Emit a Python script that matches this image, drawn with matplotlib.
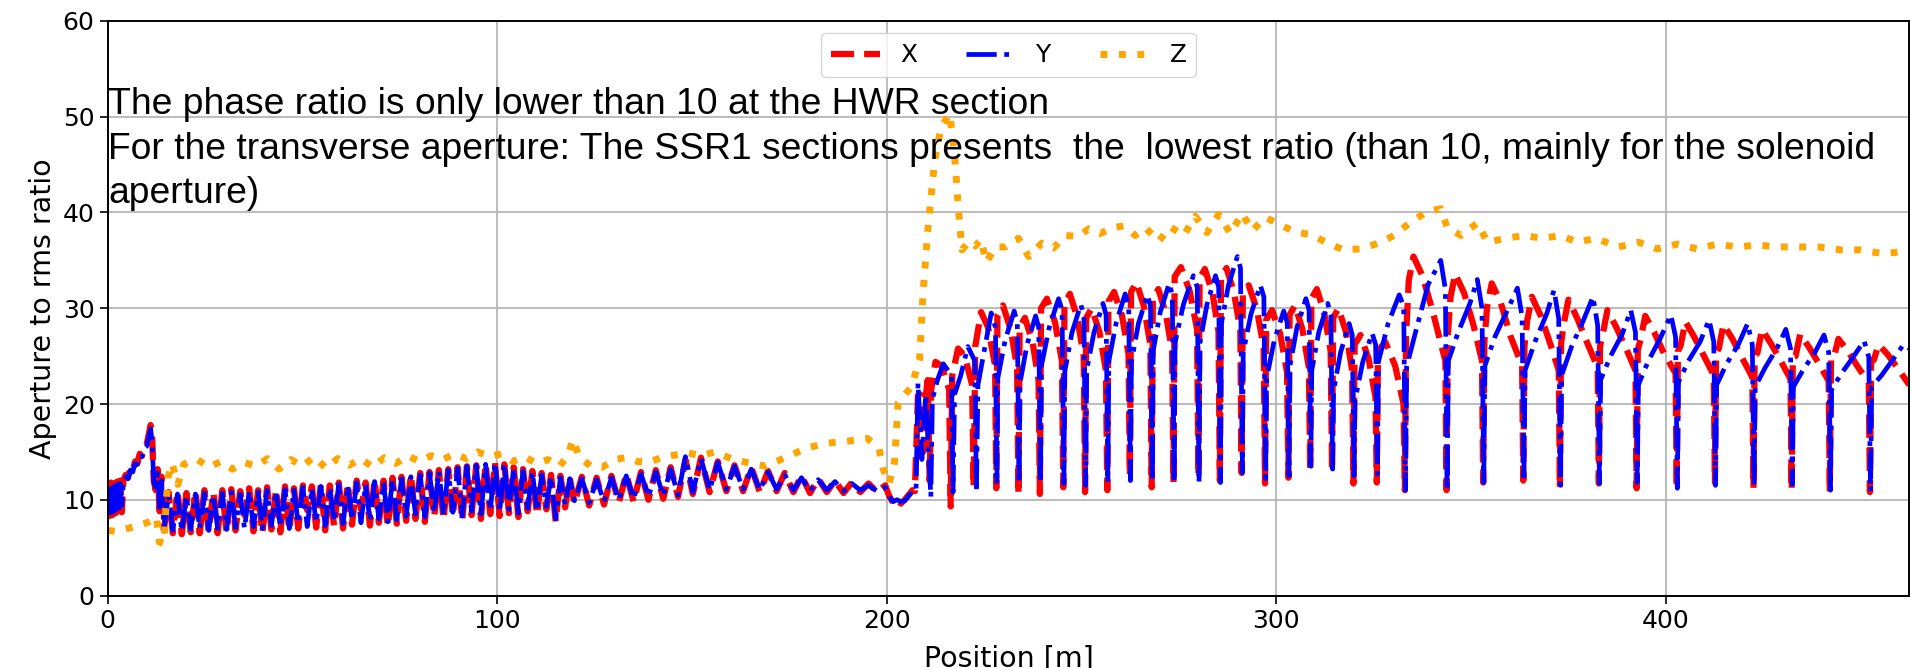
import matplotlib
matplotlib.use("Agg")
import matplotlib.pyplot as plt

# positions [m] shared by X and Y up to the SSR section (0-207 m)
pos_hwr = [
    0.0, 0.4, 0.8, 1.2, 1.6, 2.0, 2.4, 2.8, 3.2, 3.6, 4.0,
    4.6, 5.2, 5.8, 6.4, 7.0, 7.6, 8.2, 8.8, 9.4, 10.0, 10.5, 11.0,
    11.4, 11.8, 12.3, 12.8, 13.3, 13.8,
    14.4, 15.6, 16.7, 17.9, 19.0, 20.2, 21.3, 22.5, 23.6, 24.8, 25.9, 27.1, 28.2, 29.4,
    30.5, 31.7, 32.8, 34.0, 35.1, 36.3, 37.4, 38.6, 39.7, 40.9, 42.0, 43.2, 44.3, 45.5,
    46.6, 47.8, 48.9, 50.1, 51.2, 52.4, 53.5, 54.7, 55.8, 57.0, 58.1, 59.3, 60.4, 61.6,
    62.7, 63.9, 65.0, 66.2, 67.3, 68.5, 69.6, 70.8, 71.9, 73.1, 74.2, 75.4,
    76.6, 77.8, 79.0, 80.2, 81.4, 82.6, 83.8, 85.0, 86.2, 87.4, 88.6, 89.8, 91.0, 92.2,
    93.4, 94.6, 95.8, 97.0, 98.2, 99.4, 100.6, 101.8, 103.0, 104.2, 105.4, 106.6, 107.8,
    109.0, 110.2, 111.4, 112.6, 113.8, 115.0, 116.2, 117.4, 118.6, 119.8,
    121.7, 123.6, 125.5, 127.4, 129.3, 131.2, 133.1, 135.0, 136.9, 138.8, 140.7, 142.6,
    144.5, 146.4, 148.3, 150.2,
    152.3, 154.5, 156.6, 158.8, 160.9, 163.1, 165.2, 167.4, 169.5, 171.7, 173.8, 176.0,
    178.1, 180.3, 182.4, 184.6, 186.7, 188.9, 191.0, 193.2, 195.3, 197.5, 199.6,
    200.6, 201.6, 202.6, 203.6, 204.6, 205.6, 206.6,
]
x_hwr = [
    10.5, 8.3, 11.8, 8.4, 11.7, 8.6, 11.9, 8.8, 12.0, 8.7, 12.0,
    12.6, 12.3, 13.3, 13.0, 14.0, 13.8, 14.8, 14.6, 15.6, 15.8, 16.8, 17.8,
    16.5, 12.0, 11.0, 13.2, 8.8, 12.4,
    6.8, 10.8, 6.5, 10.9, 6.4, 10.7, 6.6, 10.9, 6.5, 11.0, 6.7, 10.8, 6.5, 11.0,
    6.6, 11.1, 6.8, 10.9, 8.4, 11.2, 6.7, 11.0, 6.5, 11.3, 6.9, 11.1, 6.6, 11.4,
    6.8, 11.2, 7.0, 11.5, 8.9, 11.4, 7.1, 11.6, 6.8, 11.5, 7.2, 11.8, 7.0, 11.7,
    7.4, 12.0, 9.0, 11.8, 7.3, 12.1, 7.6, 12.0, 7.2, 12.3, 7.5, 12.4,
    7.8, 12.6, 8.0, 12.8, 7.7, 12.9, 8.2, 13.1, 7.9, 13.2, 8.3, 13.4, 7.8, 13.5,
    8.4, 13.6, 8.0, 13.8, 8.5, 13.9, 8.3, 13.7, 8.6, 13.4, 8.2, 13.2, 8.8,
    13.0, 8.4, 12.8, 9.0, 12.6, 7.7, 12.5, 9.2, 12.3, 9.6,
    12.4, 9.4, 12.3, 9.5, 12.5, 9.7, 12.7, 9.8, 12.9, 10.0, 13.1, 10.1,
    13.4, 10.3, 14.2, 10.6,
    14.4, 10.8, 14.0, 10.9, 13.6, 10.9, 13.4, 10.8, 13.0, 10.9, 12.8, 10.8,
    12.5, 10.7, 12.2, 10.8, 12.0, 10.7, 11.8, 10.8, 11.7, 10.8, 11.5,
    10.4, 9.7, 10.1, 9.6, 10.0, 10.5, 11.0,
]
y_hwr = [
    10.8, 8.6, 11.5, 8.7, 11.4, 8.9, 11.6, 9.1, 11.7, 9.4, 11.8,
    12.4, 12.2, 13.1, 12.9, 13.8, 13.7, 14.6, 14.5, 15.4, 15.6, 16.6, 17.4,
    16.0, 11.8, 11.3, 12.8, 9.2, 12.0,
    6.9, 10.5, 6.8, 10.6, 6.7, 10.4, 6.9, 10.6, 7.0, 10.7, 6.8, 10.5, 7.0, 10.7,
    6.9, 10.8, 7.1, 10.6, 7.0, 10.9, 7.2, 10.8, 7.0, 11.0, 7.3, 10.9, 7.1, 11.1,
    7.0, 11.0, 7.5, 11.3, 7.2, 11.2, 7.6, 11.4, 7.3, 11.3, 7.7, 11.6, 7.5, 11.5,
    7.9, 11.8, 7.6, 11.6, 7.8, 11.9, 8.0, 11.8, 7.7, 12.1, 7.9, 12.2,
    8.3, 12.4, 8.5, 12.6, 8.2, 12.8, 8.6, 13.0, 8.4, 13.1, 8.7, 13.3, 8.3, 13.5,
    8.8, 13.6, 8.5, 13.7, 8.9, 13.9, 8.7, 13.8, 9.0, 13.3, 8.6, 13.0, 9.1,
    12.9, 8.8, 12.6, 9.3, 12.4, 8.0, 12.3, 9.5, 12.2, 9.9,
    12.2, 9.7, 12.1, 9.8, 12.3, 10.0, 12.5, 10.1, 12.7, 10.3, 12.9, 10.4,
    13.2, 10.5, 14.5, 10.8,
    14.3, 11.0, 13.9, 11.1, 13.5, 11.1, 13.2, 11.0, 12.9, 11.1, 12.6, 11.0,
    12.3, 10.9, 12.1, 11.0, 11.9, 10.9, 11.7, 11.0, 11.5, 10.9, 11.3,
    10.3, 9.8, 10.0, 9.8, 9.9, 10.4, 10.9,
]

# SSR section (207 m to end), X
pos_x_ssr = [
    207.2, 208.0, 208.6, 209.3, 209.9, 210.5, 211.0, 211.4, 212.5, 214.0, 216.0,
    216.4, 216.8, 218.3, 220.0, 221.9, 222.3, 222.7, 224.2, 226.0, 227.8, 228.1,
    228.4, 229.8, 231.8, 233.45, 233.8,
    234.1, 235.45, 237.4, 238.95, 239.3,
    239.6, 241.1, 243.2, 244.95, 245.3,
    245.6, 247.0, 248.9, 250.55, 250.9,
    251.2, 252.6, 254.6, 256.25, 256.6,
    256.9, 258.35, 260.4, 262.05, 262.4,
    262.7, 264.1, 266.0, 267.65, 268.0,
    268.3, 269.7, 271.6, 273.25, 273.6,
    273.9, 275.5, 277.75, 279.65, 280.0,
    280.3, 281.65, 283.6, 285.15, 285.5,
    285.8, 287.2, 289.1, 290.75, 291.1,
    291.4, 292.9, 295.0, 296.75, 297.1,
    297.4, 298.9, 301.0, 302.75, 303.1,
    303.4, 304.8, 306.7, 308.35, 308.7,
    309.0, 310.4, 312.3, 313.95, 314.3,
    314.6, 315.95, 317.9, 319.45, 319.8,
    320.1, 321.6, 323.7, 325.45, 325.8,
    326.1, 327.95, 330.5, 332.65, 333.0,
    333.3, 334.0, 335.2, 337.5, 340.0, 343.4, 343.7,
    344.0, 344.7, 345.9, 348.2, 350.7, 352.8, 353.1,
    353.4, 354.1, 355.3, 357.6, 360.1, 363.1, 363.4,
    363.7, 364.4, 365.6, 367.9, 370.4, 372.5, 372.8,
    373.1, 373.8, 375.0, 377.3, 379.8, 382.5, 382.8,
    383.1, 383.8, 385.0, 387.3, 389.8, 392.2, 392.5,
    392.8, 393.5, 394.7, 397.0, 399.5, 402.5, 402.8,
    403.1, 403.8, 405.0, 407.3, 409.8, 412.3, 412.6,
    412.9, 413.6, 414.8, 417.1, 419.6, 422.2, 422.5,
    422.8, 423.5, 424.7, 427.0, 429.5, 432.0, 432.3,
    432.6, 433.3, 434.5, 436.8, 439.3, 441.8, 442.1,
    442.4, 443.1, 444.3, 446.6, 449.1, 452.1, 452.4,
    452.7, 453.4, 454.6, 456.9, 459.4, 462.5,
]
x_ssr = [
    10.9, 20.9, 21.0, 15.0, 20.5, 22.5, 12.0, 21.5, 24.4, 24.0, 21.5,
    9.3, 23.0, 25.8, 25.0, 22.0, 11.3, 26.0, 29.6, 28.0, 24.0, 11.2,
    29.3, 30.3, 27.8, 23.8, 10.5,
    28.0, 29.0, 26.5, 22.5, 10.6,
    30.0, 31.0, 28.5, 24.5, 11.3,
    30.5, 31.5, 29.0, 25.0, 10.8,
    29.0, 30.0, 27.5, 23.5, 11.0,
    30.7, 31.7, 29.2, 25.2, 12.5,
    31.7, 32.7, 30.2, 26.2, 11.3,
    31.0, 32.0, 29.5, 25.5, 11.8,
    33.3, 34.3, 31.8, 27.8, 12.5,
    33.1, 34.1, 31.6, 27.6, 12.0,
    33.2, 34.2, 31.7, 27.7, 12.8,
    31.4, 32.4, 29.9, 25.9, 11.7,
    28.8, 29.8, 27.3, 23.3, 12.3,
    29.3, 30.3, 27.8, 23.8, 13.1,
    31.0, 32.0, 29.5, 25.5, 13.0,
    29.0, 30.0, 27.5, 23.5, 11.7,
    26.2, 27.2, 24.7, 20.7, 11.8,
    25.5, 26.5, 24.0, 20.0, 11.0,
    27.0, 32.9, 35.4, 33.4, 29.9, 24.5, 11.0,
    27.0, 31.1, 33.6, 31.6, 28.1, 24.5, 11.8,
    26.5, 30.1, 32.6, 30.6, 27.1, 24.0, 12.0,
    26.0, 28.7, 31.2, 29.2, 26.2, 23.5, 11.2,
    26.3, 28.4, 30.9, 28.9, 26.4, 23.8, 11.7,
    26.0, 27.3, 29.8, 28.0, 25.8, 23.5, 11.2,
    25.7, 26.7, 29.2, 27.5, 25.3, 23.2, 11.2,
    25.5, 26.1, 28.6, 27.0, 25.0, 23.0, 11.8,
    25.3, 25.8, 28.3, 26.8, 24.8, 22.8, 11.2,
    25.1, 25.3, 27.8, 26.3, 24.5, 22.6, 11.0,
    24.9, 25.0, 27.3, 25.9, 24.2, 22.4, 10.8,
    24.7, 24.8, 26.8, 25.6, 24.0, 22.2, 10.8,
    24.5, 24.6, 26.2, 25.2, 23.8, 22.0,
]

# SSR section, Y
pos_y_ssr = [
    207.5, 208.0, 209.0, 210.0, 211.3, 211.7, 213.0, 214.5, 216.6, 217.0,
    217.4, 219.0, 220.8, 222.6, 223.0, 223.4, 225.0, 226.8, 227.9, 228.25,
    228.5, 230.4, 232.7, 233.5, 233.95,
    234.2, 236.0, 238.2, 239.0, 239.45,
    239.7, 241.7, 244.1, 245.0, 245.45,
    245.7, 247.5, 249.8, 250.6, 251.05,
    251.3, 253.2, 255.5, 256.3, 256.75,
    257.0, 258.9, 261.2, 262.1, 262.55,
    262.8, 264.6, 266.9, 267.7, 268.15,
    268.4, 270.2, 272.5, 273.3, 273.75,
    274.0, 276.15, 278.7, 279.7, 280.15,
    280.4, 282.2, 284.4, 285.2, 285.65,
    285.9, 287.7, 290.0, 290.8, 291.25,
    291.5, 293.5, 295.9, 296.8, 297.25,
    297.5, 299.5, 301.9, 302.8, 303.25,
    303.5, 305.3, 307.6, 308.4, 308.85,
    309.1, 310.9, 313.2, 314.0, 314.45,
    314.7, 316.5, 318.7, 319.5, 319.95,
    320.2, 322.2, 324.6, 325.5, 325.95,
    326.2, 328.7, 331.55, 332.7, 333.15,
    333.45, 336.0, 339.0, 342.2, 343.4, 343.85,
    344.15, 346.7, 349.7, 351.6, 352.8, 353.25,
    353.55, 356.1, 359.1, 361.9, 363.1, 363.55,
    363.85, 366.4, 369.4, 371.3, 372.5, 372.95,
    373.25, 375.8, 378.8, 381.3, 382.5, 382.95,
    383.25, 385.8, 388.8, 391.0, 392.2, 392.65,
    392.95, 395.5, 398.5, 401.3, 402.5, 402.95,
    403.25, 405.8, 408.8, 411.1, 412.3, 412.75,
    413.05, 415.6, 418.6, 421.0, 422.2, 422.65,
    422.95, 425.5, 428.5, 430.8, 432.0, 432.45,
    432.75, 435.3, 438.3, 440.6, 441.8, 442.25,
    442.55, 445.1, 448.1, 450.9, 452.1, 452.55,
    452.85, 455.4, 458.4, 461.0, 462.5,
]
y_ssr = [
    10.9, 22.2, 14.2, 21.0, 10.3, 20.5, 22.5, 24.2, 23.0, 10.8,
    21.0, 23.0, 26.0, 24.5, 10.8, 22.0, 25.5, 29.5, 28.0, 11.6,
    22.7, 26.7, 29.7, 28.5, 11.7,
    22.2, 26.2, 29.2, 28.0, 11.7,
    24.0, 28.0, 31.0, 29.8, 11.7,
    23.4, 27.4, 30.4, 29.2, 11.5,
    23.5, 27.5, 30.5, 29.3, 11.8,
    24.5, 28.5, 31.5, 30.3, 12.0,
    24.4, 28.4, 31.4, 30.2, 11.9,
    25.6, 29.6, 32.6, 31.4, 11.8,
    26.4, 30.4, 33.4, 32.2, 11.8,
    26.4, 30.4, 33.4, 32.2, 11.8,
    28.4, 32.4, 35.4, 34.2, 12.8,
    25.4, 29.4, 32.4, 31.2, 12.2,
    22.7, 26.7, 29.7, 28.5, 12.5,
    24.0, 28.0, 31.0, 29.8, 13.5,
    23.5, 27.5, 30.5, 29.3, 13.2,
    21.4, 25.4, 28.4, 27.2, 12.5,
    20.4, 24.4, 27.4, 26.2, 12.7,
    24.4, 28.4, 31.4, 30.2, 11.0,
    23.9, 27.9, 32.5, 35.0, 32.0, 10.9,
    24.5, 27.5, 30.5, 33.0, 30.0, 11.8,
    24.0, 27.0, 29.6, 32.1, 29.1, 12.0,
    23.5, 26.5, 29.4, 31.9, 28.9, 11.5,
    23.0, 26.0, 28.7, 31.2, 28.2, 11.7,
    22.5, 25.0, 27.3, 29.8, 27.5, 11.8,
    22.0, 24.5, 26.8, 29.3, 27.0, 11.2,
    22.3, 24.5, 26.5, 28.8, 26.5, 11.5,
    22.0, 24.2, 26.2, 28.4, 26.2, 11.4,
    21.8, 23.8, 25.8, 27.8, 25.8, 11.6,
    21.8, 23.6, 25.4, 27.2, 25.4, 11.0,
    21.5, 23.2, 24.9, 26.6, 24.9, 10.9,
    21.8, 23.0, 24.7, 26.2, 25.8,
]

# Z (longitudinal)
pos_z = [
    0, 2, 4, 6, 8, 10, 11.5, 12.5, 13.2, 14.4,
    15.0, 15.5, 16.5, 18.0, 19.5, 21, 23, 26, 29, 32,
    35, 38, 41, 44, 47, 50, 53, 56, 59, 62,
    65, 68, 71, 74, 77, 80, 83, 86, 89, 92,
    95, 98, 101, 104, 107, 110, 113, 116, 118, 119.5,
    121, 124, 127, 130, 133, 136, 139, 142, 146, 149,
    152, 156, 160, 165, 169, 174.4, 179.5, 184.3, 189.4, 195,
    198, 199, 200.6, 202, 202.9, 206.3, 208.4, 209.3, 210.6, 212.3,
    214, 216.2, 217.5, 218.4, 219.3, 221.2, 222.7, 224.2, 225.5, 228,
    230.4, 233.8, 236.4, 239.8, 242.8, 245.8, 249.3, 251.8, 254.8, 257.8,
    260.8, 263.8, 266.4, 269.8, 272.8, 276.2, 279.2, 282.2, 285.2, 288.2,
    291.2, 293.8, 297.2, 301, 305.3, 309.2, 313, 317.3, 321.6, 326.3,
    330.2, 334.5, 338.8, 342.2, 343.9, 347.4, 351.6, 354.2, 358.9, 363.6,
    368.3, 373, 377.3, 382, 387.9, 393, 397.8, 402.9, 408, 413.2,
    418.3, 423.5, 429, 434.2, 439.3, 444.9, 450, 455.6, 460.7, 462.5,
]
z_ratio = [
    6.8, 6.7, 6.9, 7.1, 7.3, 7.6, 7.9, 8.2, 5.6, 5.4,
    9.8, 12.4, 13.8, 11.6, 13.7, 14.0, 14.2, 13.4, 14.0, 13.2,
    13.9, 13.5, 14.3, 13.2, 14.2, 13.5, 14.5, 13.3, 14.3, 13.6,
    14.3, 13.4, 14.4, 13.8, 14.6, 14.0, 14.6, 14.2, 14.8, 14.3,
    15.0, 14.5, 14.8, 14.0, 14.5, 13.8, 14.2, 13.5, 14.6, 16.3,
    14.5, 13.5, 13.4, 14.2, 14.4, 14.0, 13.9, 14.4, 14.7, 14.9,
    14.6, 15.0, 14.3, 13.8, 13.5, 14.5, 15.4, 15.9, 16.1, 16.4,
    15.4, 13.3, 11.7, 14.0, 20.1, 21.8, 24.6, 31.6, 38.5, 45.5,
    49.0, 50.3, 45.5, 40.3, 36.1, 37.0, 36.5, 37.2, 34.8, 36.4,
    36.4, 37.3, 35.4, 36.8, 36.3, 37.6, 37.5, 38.3, 37.8, 38.4,
    38.6, 37.6, 38.4, 37.0, 38.5, 37.6, 39.6, 37.9, 39.8, 37.8,
    39.9, 38.1, 39.5, 38.7, 37.9, 37.7, 36.8, 36.1, 36.2, 36.8,
    37.6, 39.0, 40.1, 40.4, 38.4, 37.6, 38.9, 36.9, 37.3, 37.6,
    37.3, 37.6, 36.9, 37.3, 36.4, 36.9, 36.2, 36.7, 36.2, 36.7,
    36.4, 36.6, 36.4, 36.4, 36.4, 36.1, 36.1, 35.7, 35.9, 35.8,
]

note_lines = [
    "The phase ratio is only lower than 10 at the HWR section",
    "For the transverse aperture: The SSR1 sections presents  the  lowest ratio (than 10, mainly for the solenoid",
    "aperture)",
]

fig = plt.figure(figsize=(19.11, 6.68), dpi=100)
ax = fig.add_axes([0.0564, 0.1085, 0.9427, 0.8601])

ax.plot(pos_hwr + pos_x_ssr, x_hwr + x_ssr, color="red", ls="--", lw=4.5, label="X")
ax.plot(pos_hwr + pos_y_ssr, y_hwr + y_ssr, color="blue", ls="-.", lw=3.4, label="Y")
ax.plot(pos_z, z_ratio, color="orange", ls=":", lw=5, label="Z")

ax.set_xlim(0, 462.5)
ax.set_ylim(0, 60)
ax.set_xticks([0, 100, 200, 300, 400])
ax.set_yticks([0, 10, 20, 30, 40, 50, 60])
ax.grid(True, color="#b0b0b0", lw=1.2)
ax.tick_params(labelsize=18, length=6, width=1.2)
for sp in ax.spines.values():
    sp.set_linewidth(1.4)
ax.set_xlabel("Position [m]", fontsize=20.5, labelpad=8.5)
ax.set_ylabel("Aperture to rms ratio", fontsize=20.5)
ax.legend(loc="upper center", ncol=3, fontsize=17.8)

# note pasted over the plot
for line, base in zip(note_lines, [114, 159, 203]):
    fig.text(108 / 1911, 1 - base / 668, line, fontsize=26.8,
             family="Liberation Sans", va="baseline", ha="left")

fig.savefig("out.png", dpi=100)
